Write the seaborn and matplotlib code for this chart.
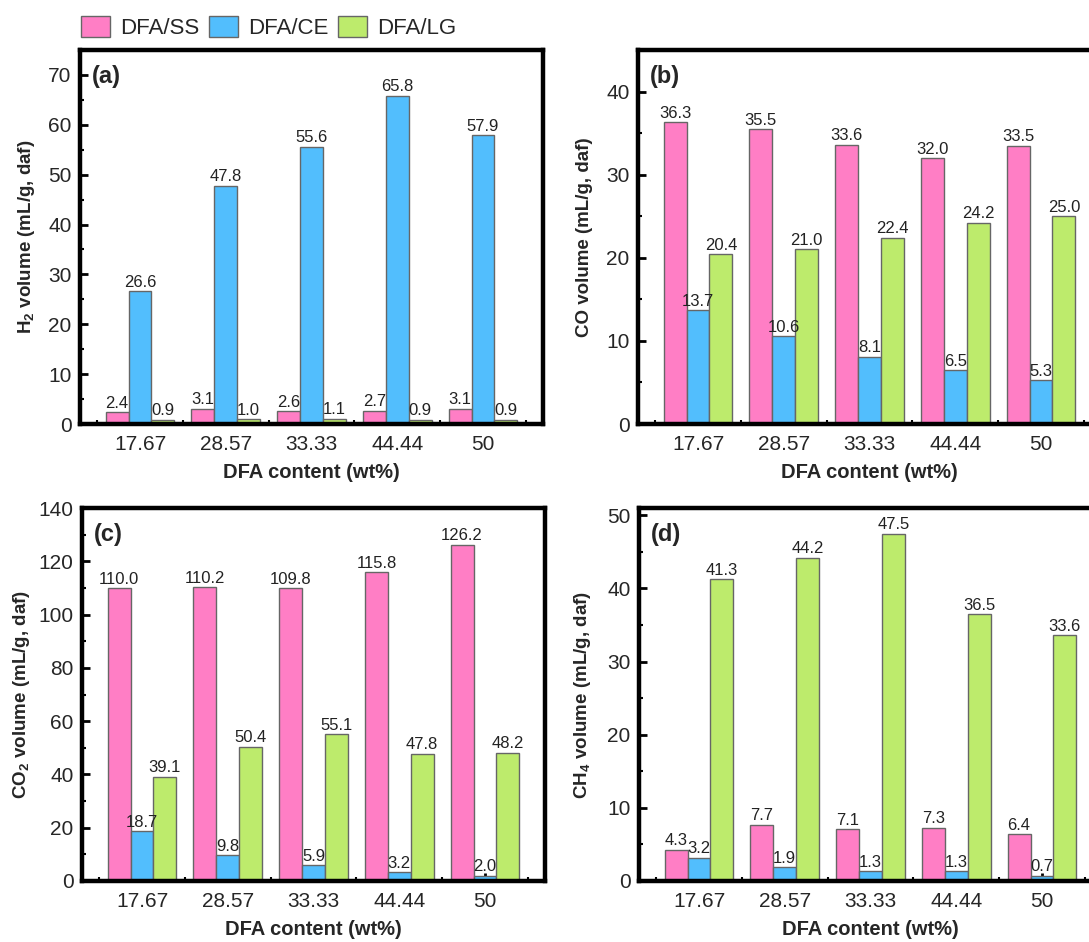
import matplotlib
matplotlib.use("Agg")
import matplotlib.pyplot as plt
import seaborn as sns
import pandas as pd
import numpy as np
from matplotlib.patches import Patch
from matplotlib.ticker import MultipleLocator

sns.set_theme(style="ticks")
plt.rcParams['font.family'] = ['Liberation Sans', 'DejaVu Sans']
plt.rcParams['mathtext.fontset'] = 'custom'
plt.rcParams['mathtext.rm'] = 'Liberation Sans'
plt.rcParams['mathtext.bf'] = 'Liberation Sans:bold'

categories = ["17.67", "28.57", "33.33", "44.44", "50"]
samples = ["DFA/SS", "DFA/CE", "DFA/LG"]
colors = ["#FF7EC5", "#52BEFD", "#BDEB6C"]

h2_ss = [2.4, 3.1, 2.6, 2.7, 3.1]
h2_ce = [26.6, 47.8, 55.6, 65.8, 57.9]
h2_lg = [0.9, 1.0, 1.1, 0.9, 0.9]

co_ss = [36.3, 35.5, 33.6, 32.0, 33.5]
co_ce = [13.7, 10.6, 8.1, 6.5, 5.3]
co_lg = [20.4, 21.0, 22.4, 24.2, 25.0]

co2_ss = [110.0, 110.2, 109.8, 115.8, 126.2]
co2_ce = [18.7, 9.8, 5.9, 3.2, 2.0]
co2_lg = [39.1, 50.4, 55.1, 47.8, 48.2]

ch4_ss = [4.3, 7.7, 7.1, 7.3, 6.4]
ch4_ce = [3.2, 1.9, 1.3, 1.3, 0.7]
ch4_lg = [41.3, 44.2, 47.5, 36.5, 33.6]

panel_labels = ["(a)", "(b)", "(c)", "(d)"]
ylabels = [r"H$_\mathbf{2}$ volume (mL/g, daf)", "CO volume (mL/g, daf)",
           r"CO$_\mathbf{2}$ volume (mL/g, daf)", r"CH$_\mathbf{4}$ volume (mL/g, daf)"]
xlabel = "DFA content (wt%)"

def long_df(ss, ce, lg):
    rows = []
    for s, vals in zip(samples, [ss, ce, lg]):
        for c, v in zip(categories, vals):
            rows.append({"content": c, "sample": s, "value": v})
    return pd.DataFrame(rows)

datasets = [long_df(h2_ss, h2_ce, h2_lg), long_df(co_ss, co_ce, co_lg),
            long_df(co2_ss, co2_ce, co2_lg), long_df(ch4_ss, ch4_ce, ch4_lg)]
ylims = [75, 45, 140, 51]
ymajor = [10, 10, 20, 10]

fig = plt.figure(figsize=(10.89, 9.42), dpi=100)
W, H = 1089, 942
boxes = [(80, 50, 463, 374), (638, 50, 463, 374), (82, 508, 463, 373), (639, 508, 463, 373)]
ylab_x = [-0.093, -0.097, -0.108, -0.100]

for i, (df, (l, t, w, h)) in enumerate(zip(datasets, boxes)):
    ax = fig.add_axes([l / W, 1 - (t + h) / H, w / W, h / H])
    sns.barplot(data=df, x="content", y="value", hue="sample", order=categories,
                hue_order=samples, palette=colors, edgecolor="#666666", linewidth=1.0,
                width=0.8, ax=ax, legend=False, errorbar=None, saturation=1)
    for cont in ax.containers:
        ax.bar_label(cont, fmt="%.1f", fontsize=12, padding=1, color="#222222")
    ax.set_xlim(-0.7, 4.7)
    ax.set_ylim(0, ylims[i])
    ax.yaxis.set_major_locator(MultipleLocator(ymajor[i]))
    ax.yaxis.set_minor_locator(MultipleLocator(ymajor[i] / 2))
    ax.set_xticks(np.arange(len(categories)))
    ax.set_xticks(np.arange(len(categories) + 1) - 0.5, minor=True)
    ax.tick_params(axis="both", which="major", direction="in", length=6, width=2,
                   labelsize=15, color="black", pad=6)
    ax.tick_params(axis="both", which="minor", direction="in", length=3, width=1.5, color="black")
    ax.tick_params(axis="x", which="major", pad=8)
    for sp in ax.spines.values():
        sp.set_linewidth(3.2)
        sp.set_color("black")
    ax.set_xlabel(xlabel, fontsize=14.5, fontweight="bold")
    ax.set_ylabel(ylabels[i], fontsize=13.5, fontweight="bold")
    ax.xaxis.set_label_coords(0.5, -0.105)
    ax.yaxis.set_label_coords(ylab_x[i], 0.5)
    ax.text(0.025, 0.93, panel_labels[i], transform=ax.transAxes, fontsize=17,
            fontweight="bold", va="center", ha="left")

handles = [Patch(facecolor=c, edgecolor="#666666", linewidth=1.0, label=s)
           for c, s in zip(colors, samples)]
fig.legend(handles=handles, loc="upper left", bbox_to_anchor=(0.060, 1.0), ncol=3,
           frameon=False, fontsize=16, handlelength=1.3, handleheight=1.1,
           handletextpad=0.45, columnspacing=0.45, borderaxespad=0.3)

fig.savefig("out.png", dpi=100)
